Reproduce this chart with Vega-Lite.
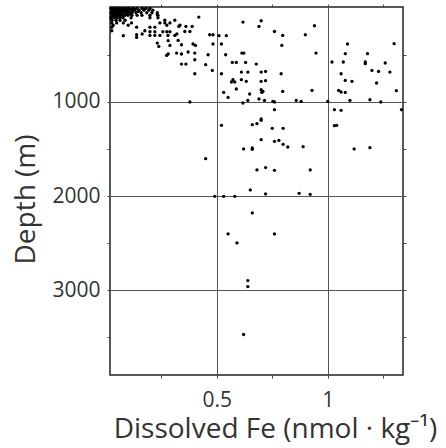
{
"$schema": "https://vega.github.io/schema/vega-lite/v6.json",
"width": 293,
"height": 368,
"autosize": "none",
"padding": {"left": 110, "top": 7, "right": 43, "bottom": 73},
"config": {"view": {"stroke": "#222", "strokeWidth": 1.5}, "font": "Open Sans"},
"data": {"values": [
{"fe":0.024,"depth":5},{"fe":0.037,"depth":5},{"fe":0.051,"depth":5},{"fe":0.064,"depth":5},{"fe":0.078,"depth":5},{"fe":0.091,"depth":5},{"fe":0.105,"depth":5},{"fe":0.123,"depth":5},{"fe":0.141,"depth":5},{"fe":0.163,"depth":5},{"fe":0.181,"depth":5},{"fe":0.199,"depth":5},
{"fe":0.030,"depth":15},{"fe":0.044,"depth":15},{"fe":0.058,"depth":15},{"fe":0.071,"depth":15},{"fe":0.085,"depth":15},{"fe":0.098,"depth":15},{"fe":0.114,"depth":15},{"fe":0.132,"depth":15},{"fe":0.172,"depth":15},
{"fe":0.028,"depth":25},{"fe":0.042,"depth":25},{"fe":0.055,"depth":25},{"fe":0.069,"depth":25},{"fe":0.082,"depth":25},{"fe":0.096,"depth":25},{"fe":0.109,"depth":25},{"fe":0.127,"depth":25},{"fe":0.150,"depth":25},{"fe":0.172,"depth":25},{"fe":0.194,"depth":25},{"fe":0.212,"depth":25},
{"fe":0.031,"depth":38},{"fe":0.045,"depth":38},{"fe":0.059,"depth":38},{"fe":0.072,"depth":38},{"fe":0.086,"depth":38},{"fe":0.101,"depth":38},{"fe":0.120,"depth":38},{"fe":0.145,"depth":38},
{"fe":0.024,"depth":52},{"fe":0.037,"depth":52},{"fe":0.051,"depth":52},{"fe":0.064,"depth":52},{"fe":0.078,"depth":52},{"fe":0.091,"depth":52},{"fe":0.105,"depth":52},{"fe":0.118,"depth":52},{"fe":0.136,"depth":52},{"fe":0.159,"depth":52},{"fe":0.185,"depth":52},{"fe":0.208,"depth":52},{"fe":0.232,"depth":52},
{"fe":0.031,"depth":65},{"fe":0.046,"depth":65},{"fe":0.060,"depth":65},{"fe":0.075,"depth":65},{"fe":0.093,"depth":65},{"fe":0.110,"depth":65},
{"fe":0.028,"depth":79},{"fe":0.042,"depth":79},{"fe":0.055,"depth":79},{"fe":0.069,"depth":79},{"fe":0.087,"depth":79},{"fe":0.100,"depth":79},{"fe":0.118,"depth":79},{"fe":0.141,"depth":79},{"fe":0.163,"depth":79},{"fe":0.199,"depth":79},{"fe":0.235,"depth":79},
{"fe":0.031,"depth":92},{"fe":0.047,"depth":92},{"fe":0.060,"depth":92},{"fe":0.075,"depth":92},
{"fe":0.024,"depth":105},{"fe":0.037,"depth":105},{"fe":0.051,"depth":105},{"fe":0.064,"depth":105},{"fe":0.078,"depth":105},{"fe":0.114,"depth":105},{"fe":0.199,"depth":105},{"fe":0.235,"depth":105},
{"fe":0.028,"depth":132},{"fe":0.046,"depth":132},{"fe":0.064,"depth":132},{"fe":0.087,"depth":132},{"fe":0.266,"depth":132},{"fe":0.311,"depth":132},
{"fe":0.027,"depth":160},{"fe":0.049,"depth":160},{"fe":0.079,"depth":160},{"fe":0.116,"depth":160},{"fe":0.244,"depth":160},{"fe":0.266,"depth":160},{"fe":0.289,"depth":160},
{"fe":0.033,"depth":185},{"fe":0.101,"depth":185},{"fe":0.275,"depth":185},{"fe":0.334,"depth":185},
{"fe":0.027,"depth":205},{"fe":0.139,"depth":205},{"fe":0.199,"depth":205},{"fe":0.221,"depth":205},
{"fe":0.027,"depth":243},{"fe":0.176,"depth":243},
{"fe":0.232,"depth":73},{"fe":0.419,"depth":98},{"fe":0.618,"depth":151},{"fe":0.700,"depth":137},{"fe":0.690,"depth":197},
{"fe":0.329,"depth":197},{"fe":0.361,"depth":197},{"fe":0.389,"depth":197},{"fe":0.940,"depth":190},{"fe":0.760,"depth":251},
{"fe":0.797,"depth":293},{"fe":0.899,"depth":286},{"fe":0.079,"depth":296},{"fe":0.139,"depth":286},{"fe":0.139,"depth":314},{"fe":0.164,"depth":278},
{"fe":0.199,"depth":254},{"fe":0.221,"depth":254},{"fe":0.257,"depth":254},{"fe":0.275,"depth":254},{"fe":0.289,"depth":254},
{"fe":0.199,"depth":293},{"fe":0.221,"depth":293},{"fe":0.244,"depth":293},{"fe":0.280,"depth":293},{"fe":0.311,"depth":293},{"fe":0.320,"depth":278},
{"fe":0.356,"depth":251},{"fe":0.379,"depth":251},{"fe":0.468,"depth":286},{"fe":0.483,"depth":286},{"fe":0.510,"depth":296},{"fe":0.543,"depth":296},
{"fe":0.232,"depth":374},{"fe":0.239,"depth":410},{"fe":0.281,"depth":349},{"fe":0.289,"depth":399},{"fe":0.326,"depth":346},{"fe":0.341,"depth":392},
{"fe":0.393,"depth":384},{"fe":0.404,"depth":399},{"fe":0.483,"depth":384},{"fe":0.521,"depth":384},{"fe":0.793,"depth":399},
{"fe":0.274,"depth":505},{"fe":0.281,"depth":490},{"fe":0.319,"depth":480},{"fe":0.341,"depth":490},{"fe":0.371,"depth":469},{"fe":0.401,"depth":480},
{"fe":0.461,"depth":498},{"fe":0.540,"depth":498},{"fe":0.613,"depth":480},{"fe":0.622,"depth":480},{"fe":0.947,"depth":480},
{"fe":0.341,"depth":597},{"fe":0.361,"depth":597},{"fe":0.401,"depth":551},{"fe":0.450,"depth":604},{"fe":0.480,"depth":665},{"fe":0.401,"depth":700},{"fe":0.521,"depth":700},
{"fe":0.570,"depth":580},{"fe":0.588,"depth":580},{"fe":0.630,"depth":580},{"fe":0.678,"depth":597},{"fe":0.611,"depth":682},{"fe":0.640,"depth":682},
{"fe":0.700,"depth":682},{"fe":0.720,"depth":675},{"fe":0.790,"depth":700},{"fe":0.573,"depth":763},{"fe":0.566,"depth":788},{"fe":0.581,"depth":788},
{"fe":0.611,"depth":763},{"fe":0.633,"depth":781},{"fe":0.700,"depth":781},{"fe":0.720,"depth":774},{"fe":0.531,"depth":898},{"fe":0.551,"depth":951},
{"fe":0.588,"depth":862},{"fe":0.648,"depth":915},{"fe":0.700,"depth":869},{"fe":0.703,"depth":898},{"fe":0.708,"depth":888},{"fe":0.797,"depth":888},{"fe":0.929,"depth":877},
{"fe":0.379,"depth":1000},{"fe":0.618,"depth":1011},{"fe":0.640,"depth":983},{"fe":0.690,"depth":968},{"fe":0.715,"depth":983},{"fe":0.753,"depth":994},{"fe":0.760,"depth":1000},
{"fe":0.858,"depth":983},{"fe":0.880,"depth":994},
{"fe":1.089,"depth":384},{"fe":1.299,"depth":381},{"fe":1.079,"depth":487},{"fe":1.179,"depth":487},{"fe":1.019,"depth":575},{"fe":1.070,"depth":575},{"fe":1.169,"depth":575},
{"fe":1.169,"depth":593},{"fe":1.259,"depth":586},{"fe":1.199,"depth":665},{"fe":1.229,"depth":675},{"fe":1.280,"depth":682},{"fe":1.060,"depth":700},{"fe":1.079,"depth":771},
{"fe":1.109,"depth":781},{"fe":1.220,"depth":798},{"fe":1.049,"depth":877},{"fe":1.060,"depth":894},{"fe":1.079,"depth":898},{"fe":1.309,"depth":880},{"fe":1.000,"depth":994},
{"fe":1.100,"depth":983},{"fe":1.190,"depth":976},{"fe":1.239,"depth":1000},{"fe":1.030,"depth":1082},{"fe":1.060,"depth":1089},{"fe":1.332,"depth":1082},{"fe":0.760,"depth":1082},
{"fe":0.700,"depth":1180},{"fe":0.700,"depth":1195},{"fe":0.521,"depth":1248},{"fe":0.660,"depth":1241},{"fe":0.681,"depth":1230},{"fe":0.750,"depth":1280},{"fe":0.799,"depth":1280},
{"fe":1.030,"depth":1252},{"fe":1.040,"depth":1248},{"fe":0.700,"depth":1400},{"fe":0.760,"depth":1418},{"fe":0.780,"depth":1408},{"fe":0.799,"depth":1450},{"fe":0.820,"depth":1478},
{"fe":0.889,"depth":1475},{"fe":0.621,"depth":1499},{"fe":0.660,"depth":1488},{"fe":0.660,"depth":1503},{"fe":1.119,"depth":1499},{"fe":1.190,"depth":1485},{"fe":0.450,"depth":1602},
{"fe":0.681,"depth":1722},{"fe":0.720,"depth":1697},{"fe":0.760,"depth":1726},{"fe":0.921,"depth":1722},{"fe":0.651,"depth":1934},{"fe":0.491,"depth":2002},{"fe":0.531,"depth":2002},
{"fe":0.581,"depth":2002},{"fe":0.720,"depth":1977},{"fe":0.871,"depth":1970},{"fe":0.921,"depth":1981},{"fe":0.660,"depth":2178},{"fe":0.551,"depth":2401},{"fe":0.760,"depth":2401},
{"fe":0.591,"depth":2497},{"fe":0.640,"depth":2897},{"fe":0.640,"depth":2961},{"fe":0.621,"depth":3470}
]},
"resolve": {"axis": {"x": "independent", "y": "independent"}},
"layer": [
{
"mark": {"type": "circle", "size": 11, "color": "#000", "opacity": 1},
"encoding": {
"x": {"field": "fe", "type": "quantitative",
"scale": {"domain": [0.019, 1.339], "nice": false, "zero": false},
"axis": {"orient": "bottom", "values": [0.25, 0.5, 0.75, 1, 1.25], "format": "~g",
"domain": false, "grid": true, "gridColor": "#555", "gridWidth": 1,
"gridOpacity": {"condition": {"test": "datum.value == 0.5 || datum.value == 1", "value": 1}, "value": 0},
"ticks": true, "tickSize": 3, "tickColor": "#444",
"labelExpr": "datum.value == 0.5 || datum.value == 1 ? datum.label : ''",
"labelFont": "Open Sans", "labelFontSize": 21, "labelColor": "#333", "labelPadding": 28, "labelBaseline": "alphabetic",
"labelFlush": false, "labelOverlap": false,
"title": "Dissolved Fe (nmol · kg⁻¹)", "titleFont": "Open Sans", "titleFontSize": 28, "titleFontWeight": "normal", "titleColor": "#333",
"titleX": 165, "titleY": 62, "titleAlign": "center", "titleBaseline": "alphabetic", "titleAnchor": null}},
"y": {"field": "depth", "type": "quantitative",
"scale": {"domain": [-9, 3900], "nice": false, "zero": false, "reverse": true},
"axis": {"orient": "left", "values": [500, 1000, 1500, 2000, 2500, 3000, 3500], "format": "d",
"domain": false, "grid": true, "gridColor": "#555", "gridWidth": 1,
"gridOpacity": {"condition": {"test": "datum.value == 1000 || datum.value == 2000 || datum.value == 3000", "value": 1}, "value": 0},
"ticks": true, "tickSize": 3, "tickColor": "#444",
"labelExpr": "datum.value == 1000 || datum.value == 2000 || datum.value == 3000 ? datum.label : ''",
"labelFont": "Open Sans", "labelFontSize": 21, "labelColor": "#333", "labelPadding": 7, "labelBaseline": "middle",
"labelFlush": false, "labelOverlap": false,
"title": "Depth (m)", "titleFont": "Open Sans", "titleFontSize": 28, "titleFontWeight": "normal", "titleColor": "#333",
"titleX": -76, "titleY": 192, "titleAlign": "center", "titleBaseline": "alphabetic", "titleAngle": 270}}
}
},
{
"mark": {"type": "circle", "size": 8, "opacity": 0},
"encoding": {
"x": {"field": "fe", "type": "quantitative",
"axis": {"orient": "top", "values": [0.25, 0.5, 0.75, 1, 1.25], "domain": false, "grid": false, "labels": false,
"ticks": true, "tickSize": 3, "tickColor": "#444", "title": null}},
"y": {"field": "depth", "type": "quantitative",
"axis": {"orient": "right", "values": [500, 1000, 1500, 2000, 2500, 3000, 3500], "domain": false, "grid": false, "labels": false,
"ticks": true, "tickSize": 3, "tickColor": "#444", "title": null}}
}
}
]
}
